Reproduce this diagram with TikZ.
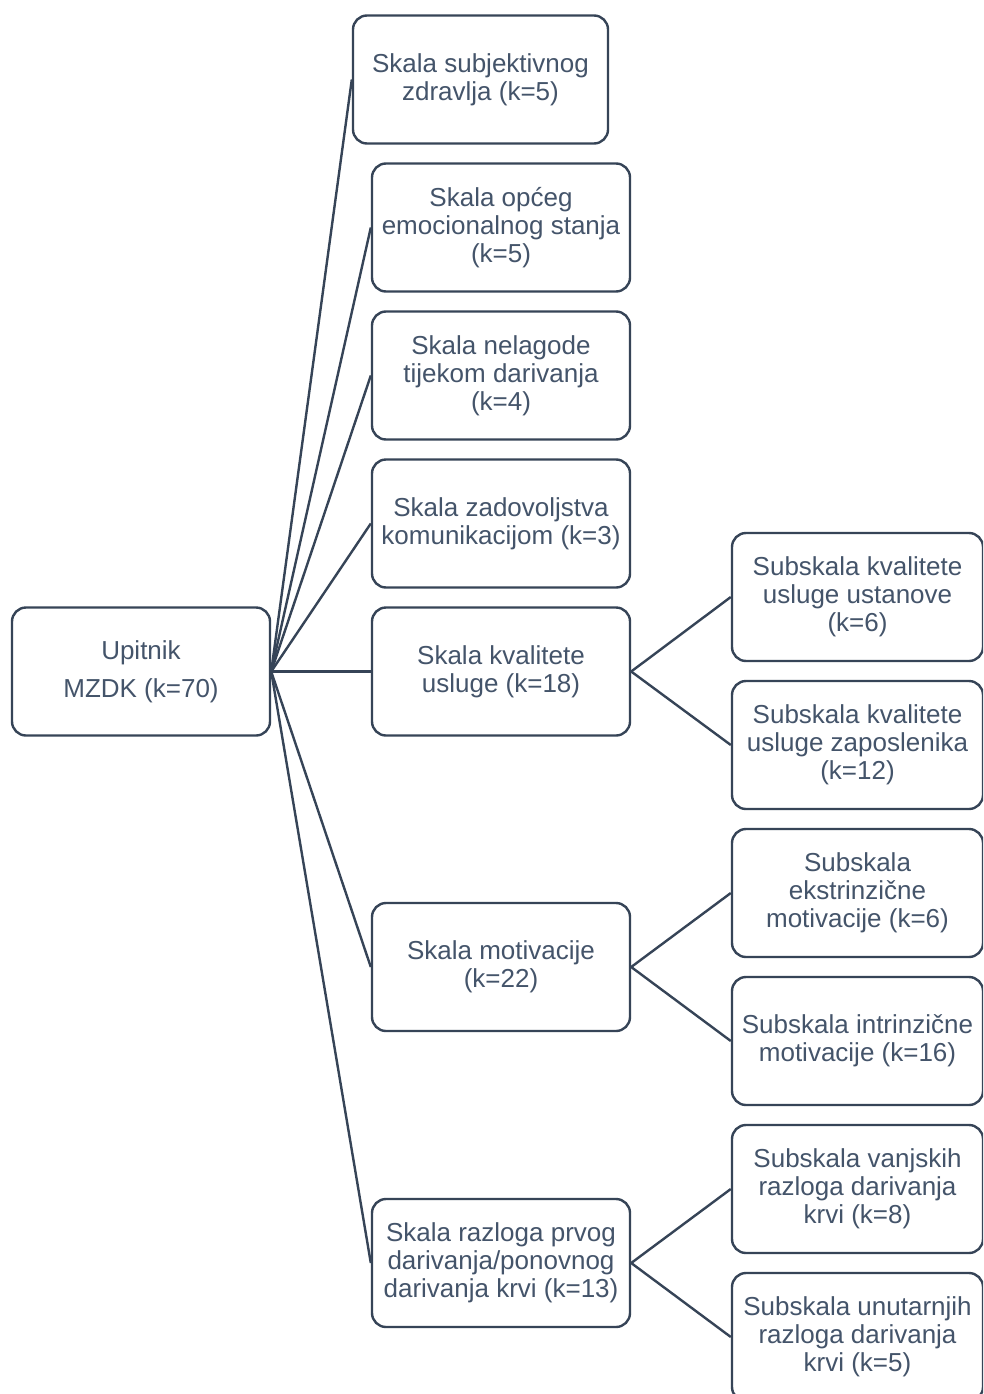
\documentclass[tikz,border=0pt]{standalone}
\usepackage{fontspec}
\setmainfont{Liberation Sans}
\definecolor{linec}{HTML}{364457}
\definecolor{textc}{HTML}{44546A}
\begin{document}
\begin{tikzpicture}[x=1pt,y=-1pt,
  box/.style={draw=linec, line width=2.4pt, rounded corners=14pt, fill=white,
    minimum width=#1, minimum height=128pt, inner sep=0pt, align=center,
    text=textc, font=\fontsize{26}{28}\selectfont},
  box/.default=258pt,
  conn/.style={draw=linec, line width=2.4pt}]
\useasboundingbox (0,0) rectangle (983,1394);
\fill[white] (0,0) rectangle (983,1394);
\clip (0,0) rectangle (983,1394);
% root
\node[box] (root) at (141,671.5) {Upitnik\\[10pt]MZDK (k=70)};
% first level
\node[box=255pt] (a1) at (480.5,79.5) {Skala subjektivnog\\zdravlja (k=5)};
\node[box] (a2) at (501,227.5) {Skala općeg\\emocionalnog stanja\\(k=5)};
\node[box] (a3) at (501,375.5) {Skala nelagode\\tijekom darivanja\\(k=4)};
\node[box] (a4) at (501,523.5) {Skala zadovoljstva\\komunikacijom (k=3)};
\node[box] (a5) at (501,671.5) {Skala kvalitete\\usluge (k=18)};
\node[box] (a6) at (501,967) {Skala motivacije\\(k=22)};
\node[box] (a7) at (501,1263) {Skala razloga prvog\\darivanja/ponovnog\\darivanja krvi (k=13)};
% second level
\node[box=251pt] (b1) at (857.5,597) {Subskala kvalitete\\usluge ustanove\\(k=6)};
\node[box=251pt] (b2) at (857.5,745) {Subskala kvalitete\\usluge zaposlenika\\(k=12)};
\node[box=251pt] (b3) at (857.5,893) {Subskala\\ekstrinzične\\motivacije (k=6)};
\node[box=251pt] (b4) at (857.5,1041) {Subskala intrinzične\\motivacije (k=16)};
\node[box=251pt] (b5) at (857.5,1189) {Subskala vanjskih\\razloga darivanja\\krvi (k=8)};
\node[box=251pt] (b6) at (857.5,1337) {Subskala unutarnjih\\razloga darivanja\\krvi (k=5)};
% connectors
\foreach \t in {a1,a2,a3,a4,a5,a6,a7}
  \draw[conn] (root.east) -- (\t.west);
\draw[conn] (a5.east) -- (b1.west);
\draw[conn] (a5.east) -- (b2.west);
\draw[conn] (a6.east) -- (b3.west);
\draw[conn] (a6.east) -- (b4.west);
\draw[conn] (a7.east) -- (b5.west);
\draw[conn] (a7.east) -- (b6.west);
\end{tikzpicture}
\end{document}
